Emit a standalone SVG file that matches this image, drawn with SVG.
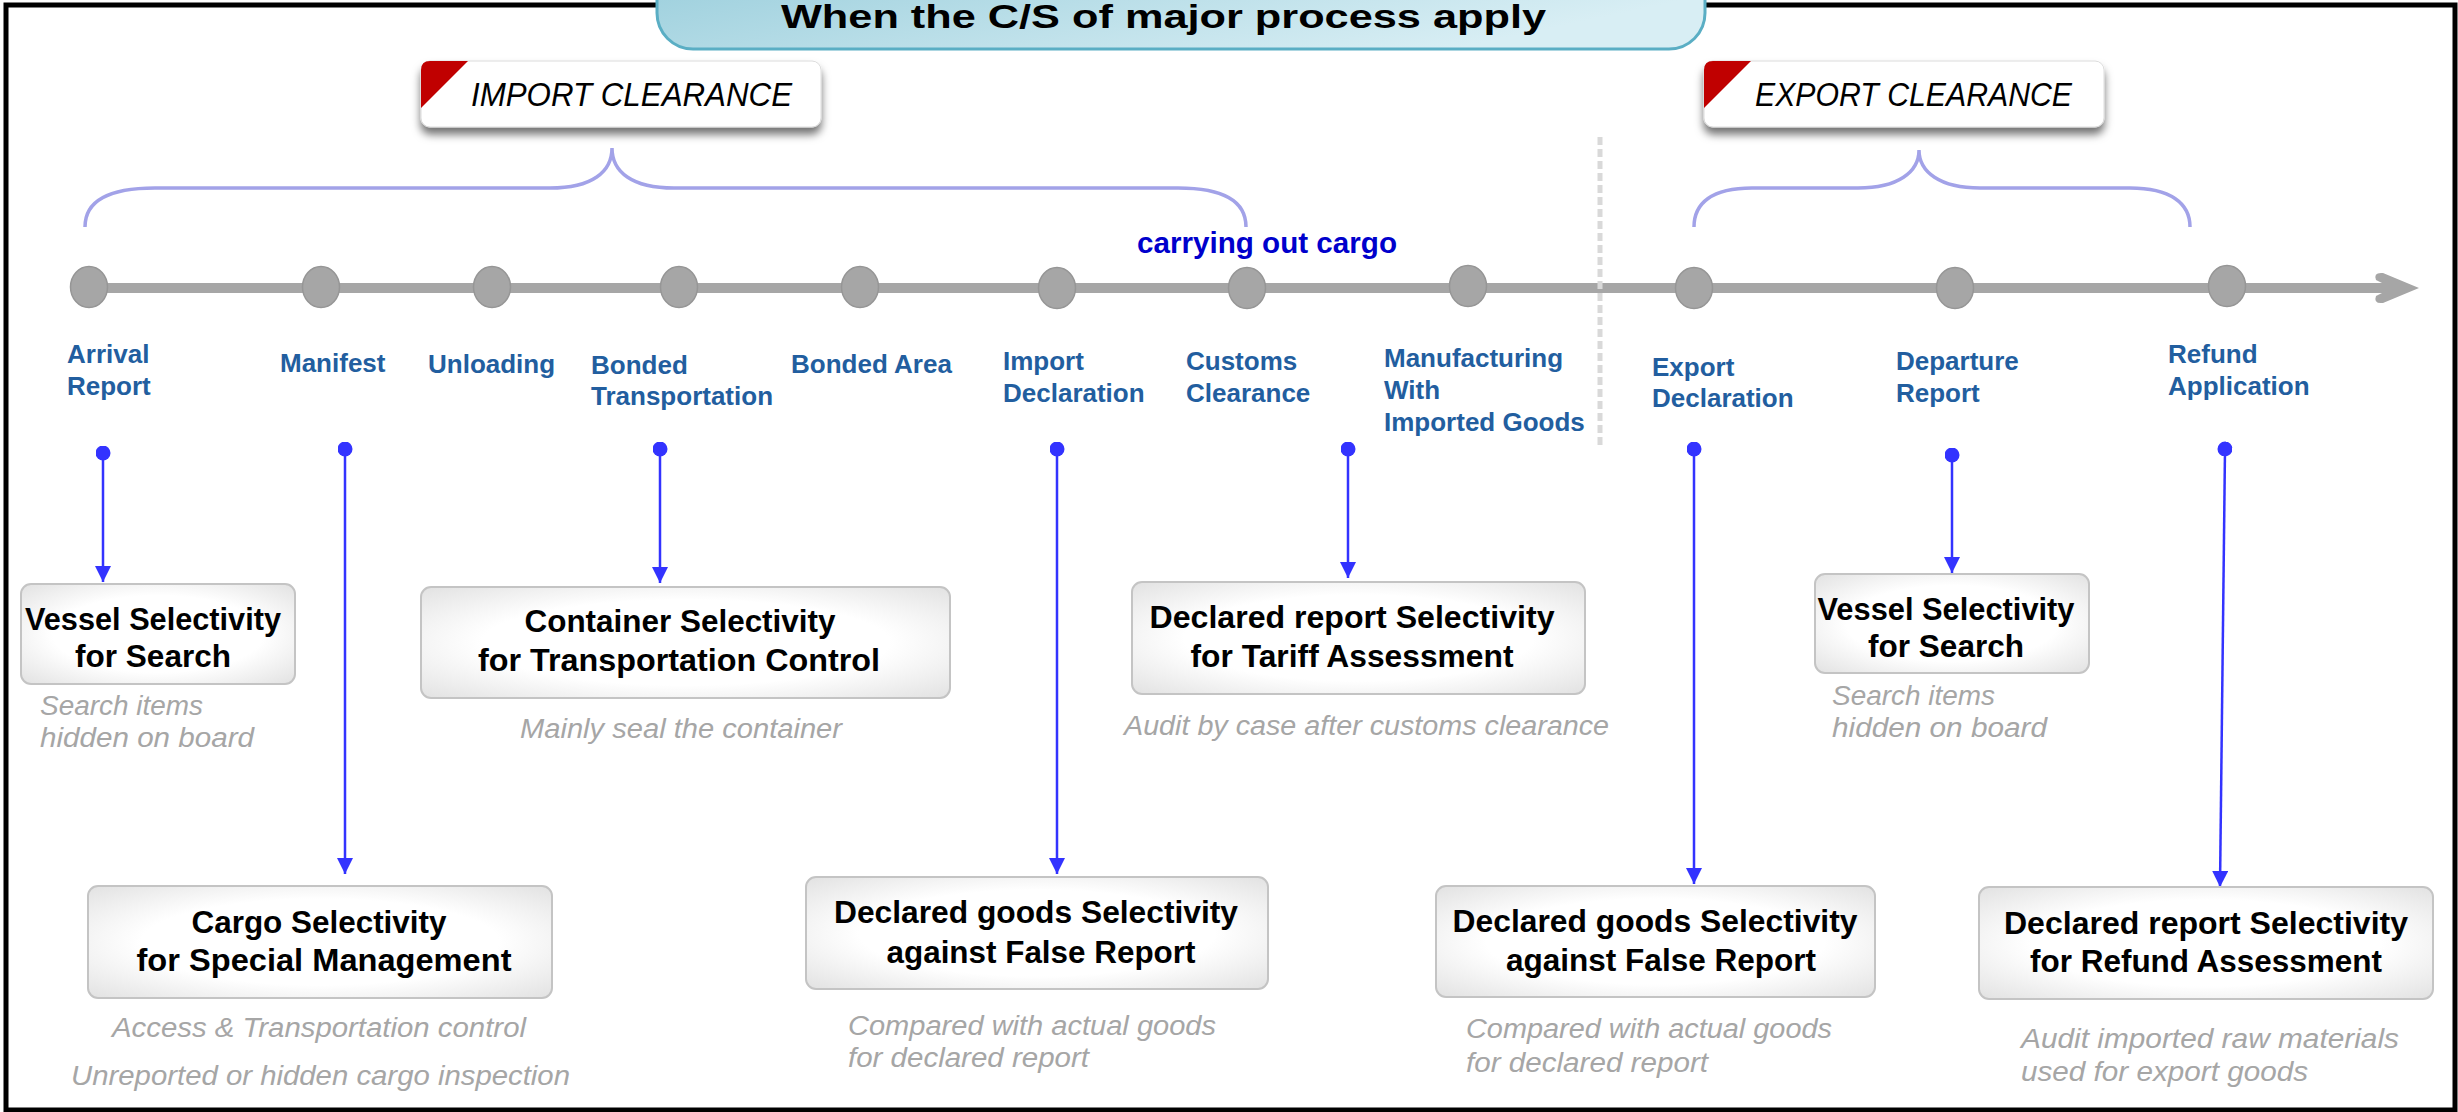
<svg xmlns="http://www.w3.org/2000/svg" width="2458" height="1112" viewBox="0 0 2458 1112">
<style>
  .frame{fill:none;stroke:#000;stroke-width:5}
  .step{font-family:"Liberation Sans",Arial,sans-serif;font-weight:bold;font-size:26px;fill:#225e9f}
  .boxt{font-family:"Liberation Sans",Arial,sans-serif;font-weight:bold;font-size:32px;fill:#000;text-anchor:middle}
  .sub{font-family:"Liberation Sans",Arial,sans-serif;font-style:italic;font-size:27px;fill:#a6a6a6}
  .tagt{font-family:"Liberation Sans",Arial,sans-serif;font-style:italic;font-size:33px;fill:#000}
  .box{fill:url(#boxg);stroke:#c4c4c4;stroke-width:2}
  .dot{fill:#a6a6a6;stroke:#969696;stroke-width:1.5}
  .brace{fill:none;stroke:#a2a2e8;stroke-width:3.5}
  .conn{stroke:#3333ff;stroke-width:2.5;fill:none;marker-start:url(#dot);marker-end:url(#arr)}
</style>
<defs>
  <radialGradient id="boxg" cx="50%" cy="50%" r="70%">
    <stop offset="0.55" stop-color="#ffffff"/>
    <stop offset="1" stop-color="#e2e2e2"/>
  </radialGradient>
  <linearGradient id="titleg" x1="0" y1="0" x2="1" y2="0.4">
    <stop offset="0" stop-color="#98cddb"/>
    <stop offset="1" stop-color="#d8eef4"/>
  </linearGradient>
  <filter id="shadow" x="-10%" y="-20%" width="120%" height="160%">
    <feDropShadow dx="0" dy="7" stdDeviation="4" flood-color="#000" flood-opacity="0.55"/>
  </filter>
  <marker id="arr" viewBox="0 0 16 16" markerWidth="16" markerHeight="16" refX="16" refY="8" orient="auto" markerUnits="userSpaceOnUse">
    <path d="M0,0 L16,8 L0,16 Z" fill="#3333ff"/>
  </marker>
  <marker id="dot" viewBox="0 0 16 16" markerWidth="15" markerHeight="15" refX="8" refY="8" orient="auto" markerUnits="userSpaceOnUse">
    <circle cx="8" cy="8" r="8" fill="#3333ff"/>
  </marker>
</defs>

<rect x="0" y="0" width="2458" height="1112" fill="#fff"/>
<rect class="frame" x="6" y="5" width="2449" height="1105"/>

<g id="title">
  <rect x="657" y="-40" width="1048" height="89" rx="36" ry="36" fill="url(#titleg)" stroke="#5aaec4" stroke-width="3"/>
  <text x="781" y="28" font-family="Liberation Sans, Arial, sans-serif" font-weight="bold" font-size="34" fill="#000" textLength="765" lengthAdjust="spacingAndGlyphs">When the C/S of major process apply</text>
</g>

<g id="import-tag">
  <rect x="421" y="61" width="400" height="66" rx="9" fill="#fff" stroke="#dcdcdc" stroke-width="1" filter="url(#shadow)"/>
  <path d="M421,108 L421,70 Q421,61 430,61 L468,61 Z" fill="#c00000"/>
  <text class="tagt" x="471" y="106" textLength="321" lengthAdjust="spacingAndGlyphs">IMPORT CLEARANCE</text>
</g>

<g id="export-tag">
  <rect x="1704" y="61" width="400" height="66" rx="9" fill="#fff" stroke="#dcdcdc" stroke-width="1" filter="url(#shadow)"/>
  <path d="M1704,108 L1704,70 Q1704,61 1713,61 L1751,61 Z" fill="#c00000"/>
  <text class="tagt" x="1755" y="106" textLength="317" lengthAdjust="spacingAndGlyphs">EXPORT CLEARANCE</text>
</g>

<g id="braces">
  <path class="brace" d="M85,227 C85,202 106,188 155,188 L550,188 C592,188 612,172 612,148 C612,172 632,188 674,188 L1178,188 C1226,188 1246,202 1246,227"/>
  <path class="brace" d="M1694,227 C1694,203 1712,188 1752,188 L1858,188 C1898,188 1919,172 1919,150 C1919,172 1940,188 1980,188 L2130,188 C2170,188 2190,203 2190,227"/>
</g>

<g id="timeline">
  <line x1="89" y1="288" x2="2400" y2="288" stroke="#a6a6a6" stroke-width="10"/>
  <path d="M2376,280 Q2373,272 2383,273 L2419,288 L2383,303 Q2373,304 2376,296 L2392,288 Z" fill="#a6a6a6"/>
  <line x1="1600" y1="137" x2="1600" y2="448" stroke="#d9d9d9" stroke-width="5" stroke-dasharray="8 4"/>
  <text x="1137" y="253" font-family="Liberation Sans, Arial, sans-serif" font-weight="bold" font-size="29" fill="#0000cc" textLength="260" lengthAdjust="spacingAndGlyphs">carrying out cargo</text>
</g>

<g id="step-arrival">
  <ellipse class="dot" cx="89" cy="287" rx="18.5" ry="20.5"/>
  <text class="step" x="67" y="363">Arrival</text>
  <text class="step" x="67" y="395">Report</text>
</g>
<g id="step-manifest">
  <ellipse class="dot" cx="321" cy="287" rx="18.5" ry="20.5"/>
  <text class="step" x="280" y="372">Manifest</text>
</g>
<g id="step-unloading">
  <ellipse class="dot" cx="492" cy="287" rx="18.5" ry="20.5"/>
  <text class="step" x="428" y="373">Unloading</text>
</g>
<g id="step-bonded-transportation">
  <ellipse class="dot" cx="679" cy="287" rx="18.5" ry="20.5"/>
  <text class="step" x="591" y="374">Bonded</text>
  <text class="step" x="591" y="405">Transportation</text>
</g>
<g id="step-bonded-area">
  <ellipse class="dot" cx="860" cy="287" rx="18.5" ry="20.5"/>
  <text class="step" x="791" y="373">Bonded Area</text>
</g>
<g id="step-import-declaration">
  <ellipse class="dot" cx="1057" cy="288" rx="18.5" ry="20.5"/>
  <text class="step" x="1003" y="370">Import</text>
  <text class="step" x="1003" y="402">Declaration</text>
</g>
<g id="step-customs-clearance">
  <ellipse class="dot" cx="1247" cy="288" rx="18.5" ry="20.5"/>
  <text class="step" x="1186" y="370">Customs</text>
  <text class="step" x="1186" y="402">Clearance</text>
</g>
<g id="step-manufacturing">
  <ellipse class="dot" cx="1468" cy="286" rx="18.5" ry="20.5"/>
  <text class="step" x="1384" y="367">Manufacturing</text>
  <text class="step" x="1384" y="399">With</text>
  <text class="step" x="1384" y="431">Imported Goods</text>
</g>
<g id="step-export-declaration">
  <ellipse class="dot" cx="1694" cy="288" rx="18.5" ry="20.5"/>
  <text class="step" x="1652" y="376">Export</text>
  <text class="step" x="1652" y="407">Declaration</text>
</g>
<g id="step-departure-report">
  <ellipse class="dot" cx="1955" cy="288" rx="18.5" ry="20.5"/>
  <text class="step" x="1896" y="370">Departure</text>
  <text class="step" x="1896" y="402">Report</text>
</g>
<g id="step-refund-application">
  <ellipse class="dot" cx="2227" cy="286" rx="18.5" ry="20.5"/>
  <text class="step" x="2168" y="363">Refund</text>
  <text class="step" x="2168" y="395">Application</text>
</g>

<g id="connectors">
  <line class="conn" x1="103" y1="453" x2="103" y2="582"/>
  <line class="conn" x1="345" y1="449" x2="345" y2="874"/>
  <line class="conn" x1="660" y1="449" x2="660" y2="583"/>
  <line class="conn" x1="1057" y1="449" x2="1057" y2="874"/>
  <line class="conn" x1="1348" y1="449" x2="1348" y2="578"/>
  <line class="conn" x1="1694" y1="449" x2="1694" y2="884"/>
  <line class="conn" x1="1952" y1="455" x2="1952" y2="573"/>
  <line class="conn" x1="2225" y1="449" x2="2220" y2="887"/>
</g>

<g id="box-vessel-import">
  <rect class="box" x="21" y="584" width="274" height="100" rx="10"/>
  <text class="boxt" x="153" y="630" textLength="256" lengthAdjust="spacingAndGlyphs">Vessel Selectivity</text>
  <text class="boxt" x="153" y="667" textLength="156" lengthAdjust="spacingAndGlyphs">for Search</text>
  <text class="sub" x="40" y="715" textLength="163" lengthAdjust="spacingAndGlyphs">Search items</text>
  <text class="sub" x="40" y="747" textLength="214" lengthAdjust="spacingAndGlyphs">hidden on board</text>
</g>

<g id="box-container">
  <rect class="box" x="421" y="587" width="529" height="111" rx="10"/>
  <text class="boxt" x="680" y="632" textLength="311" lengthAdjust="spacingAndGlyphs">Container Selectivity</text>
  <text class="boxt" x="679" y="671" textLength="402" lengthAdjust="spacingAndGlyphs">for Transportation Control</text>
  <text class="sub" x="520" y="738" textLength="322" lengthAdjust="spacingAndGlyphs">Mainly seal the container</text>
</g>

<g id="box-tariff">
  <rect class="box" x="1132" y="582" width="453" height="112" rx="10"/>
  <text class="boxt" x="1352" y="628" textLength="405" lengthAdjust="spacingAndGlyphs">Declared report Selectivity</text>
  <text class="boxt" x="1352" y="667" textLength="323" lengthAdjust="spacingAndGlyphs">for Tariff Assessment</text>
  <text class="sub" x="1124" y="735" textLength="485" lengthAdjust="spacingAndGlyphs">Audit by case after customs clearance</text>
</g>

<g id="box-vessel-export">
  <rect class="box" x="1815" y="574" width="274" height="99" rx="10"/>
  <text class="boxt" x="1946" y="620" textLength="257" lengthAdjust="spacingAndGlyphs">Vessel Selectivity</text>
  <text class="boxt" x="1946" y="657" textLength="156" lengthAdjust="spacingAndGlyphs">for Search</text>
  <text class="sub" x="1832" y="705" textLength="163" lengthAdjust="spacingAndGlyphs">Search items</text>
  <text class="sub" x="1832" y="737" textLength="215" lengthAdjust="spacingAndGlyphs">hidden on board</text>
</g>

<g id="box-cargo">
  <rect class="box" x="88" y="886" width="464" height="112" rx="10"/>
  <text class="boxt" x="319" y="933" textLength="255" lengthAdjust="spacingAndGlyphs">Cargo Selectivity</text>
  <text class="boxt" x="324" y="971" textLength="375" lengthAdjust="spacingAndGlyphs">for Special Management</text>
  <text class="sub" x="112" y="1037" textLength="414" lengthAdjust="spacingAndGlyphs">Access &amp; Transportation control</text>
  <text class="sub" x="71" y="1085" textLength="499" lengthAdjust="spacingAndGlyphs">Unreported or hidden cargo inspection</text>
</g>

<g id="box-goods-import">
  <rect class="box" x="806" y="877" width="462" height="112" rx="10"/>
  <text class="boxt" x="1036" y="923" textLength="404" lengthAdjust="spacingAndGlyphs">Declared goods Selectivity</text>
  <text class="boxt" x="1041" y="963" textLength="309" lengthAdjust="spacingAndGlyphs">against False Report</text>
  <text class="sub" x="848" y="1035" textLength="368" lengthAdjust="spacingAndGlyphs">Compared with actual goods</text>
  <text class="sub" x="848" y="1067" textLength="241" lengthAdjust="spacingAndGlyphs">for declared report</text>
</g>

<g id="box-goods-export">
  <rect class="box" x="1436" y="886" width="439" height="111" rx="10"/>
  <text class="boxt" x="1655" y="932" textLength="405" lengthAdjust="spacingAndGlyphs">Declared goods Selectivity</text>
  <text class="boxt" x="1661" y="971" textLength="310" lengthAdjust="spacingAndGlyphs">against False Report</text>
  <text class="sub" x="1466" y="1038" textLength="366" lengthAdjust="spacingAndGlyphs">Compared with actual goods</text>
  <text class="sub" x="1466" y="1072" textLength="242" lengthAdjust="spacingAndGlyphs">for declared report</text>
</g>

<g id="box-refund">
  <rect class="box" x="1979" y="887" width="454" height="112" rx="10"/>
  <text class="boxt" x="2206" y="934" textLength="404" lengthAdjust="spacingAndGlyphs">Declared report Selectivity</text>
  <text class="boxt" x="2206" y="972" textLength="352" lengthAdjust="spacingAndGlyphs">for Refund Assessment</text>
  <text class="sub" x="2021" y="1048" textLength="378" lengthAdjust="spacingAndGlyphs">Audit imported raw materials</text>
  <text class="sub" x="2021" y="1081" textLength="287" lengthAdjust="spacingAndGlyphs">used for export goods</text>
</g>
</svg>
